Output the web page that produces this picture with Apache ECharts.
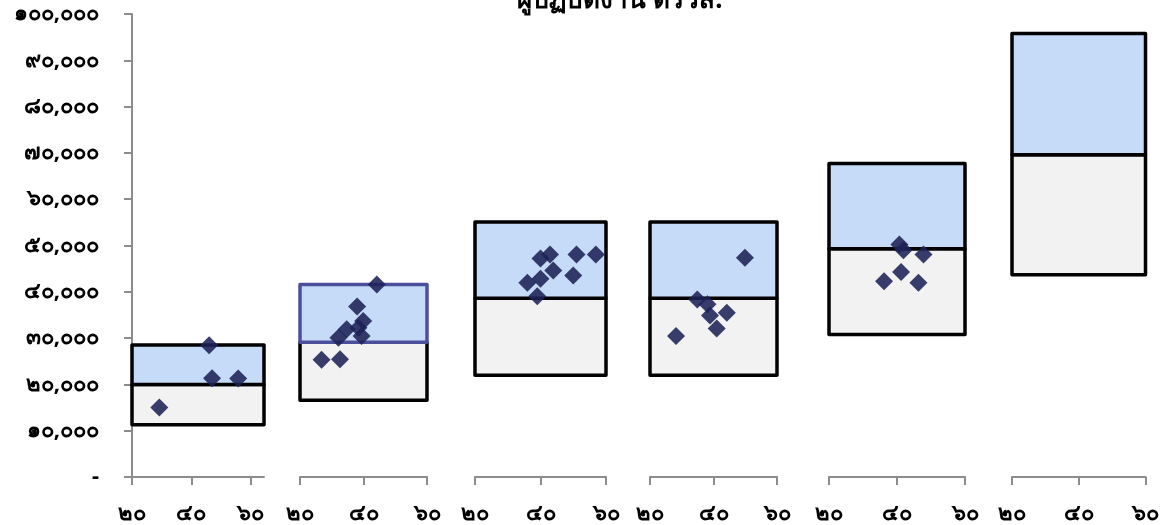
<!DOCTYPE html>
<html>
<head>
<meta charset="utf-8">
<script src="https://cdn.jsdelivr.net/npm/echarts@6/dist/echarts.min.js"></script>
<style>
  html, body { margin: 0; padding: 0; background: #fff; }
  #chart { width: 1162px; height: 525px; }
</style>
</head>
<body>
<div id="chart"></div>
<script>
// Title
const chartTitle = 'ผู้ปฏิบัติงาน ตรวส.';

// Salary band per panel: minimum, midpoint, maximum
const bandMin = [11300, 16600, 22000, 22000, 30800, 43700];
const bandMid = [20000, 29100, 38600, 38600, 49300, 69600];
const bandMax = [28500, 41600, 55100, 55100, 67700, 95800];

// Individual staff: [age, salary] per panel
const staff1 = [[29.2, 15000], [46.0, 28450], [47.0, 21350], [55.8, 21250]];
const staff2 = [[44.2, 41600], [38.0, 36800], [39.9, 33700], [38.4, 32250], [34.7, 31900],
                [39.4, 30450], [32.1, 30100], [32.6, 25450], [26.8, 25300]];
const staff3 = [[42.9, 48050], [40.0, 47200], [51.0, 48050], [56.9, 48050], [43.9, 44600],
                [50.0, 43500], [40.0, 42800], [36.0, 41950], [39.0, 39050]];
const staff4 = [[49.9, 47350], [34.9, 38350], [38.1, 37300], [38.9, 34900], [44.2, 35500],
                [41.0, 32050], [28.2, 30450]];
const staff5 = [[40.7, 50200], [41.9, 49000], [47.8, 48050], [41.2, 44250], [36.2, 42300],
                [46.3, 41950]];
const staff6 = [];
const staffSets = [staff1, staff2, staff3, staff4, staff5, staff6];

// Axis tick values and their labels
const yTickValues = [0, 10000, 20000, 30000, 40000, 50000, 60000, 70000, 80000, 90000, 100000];
const yTickLabels = ['-', '๑๐,๐๐๐', '๒๐,๐๐๐', '๓๐,๐๐๐', '๔๐,๐๐๐', '๕๐,๐๐๐',
                     '๖๐,๐๐๐', '๗๐,๐๐๐', '๘๐,๐๐๐', '๙๐,๐๐๐', '๑๐๐,๐๐๐'];
const xTickValues = [20, 40, 60];
const xTickLabels = ['๒๐', '๔๐', '๖๐'];

// Panel layout: left edge, width (px) and x-axis upper bound
const panels = [
  { left: 132, width: 132, xMax: 64.5 },
  { left: 300, width: 127, xMax: 60 },
  { left: 475, width: 131, xMax: 60 },
  { left: 650, width: 127, xMax: 60 },
  { left: 829, width: 136, xMax: 60 },
  { left: 1012, width: 134, xMax: 60 }
];
const xMin = 20;

const FONT = '"Noto Sans", "DejaVu Sans", Tahoma, sans-serif';
const AXIS_GREY = '#8c8c8c';
const BLUE_FILL = '#c6dbf7';
const GREY_FILL = '#f2f2f2';
const MARK = 'rgba(30, 34, 86, 0.88)';
const LABEL_SIZE = 22;

const grids = [], xAxes = [], yAxes = [], series = [];

panels.forEach((p, i) => {
  grids.push({ left: p.left, width: p.width, top: 14, height: 464 });

  xAxes.push({
    type: 'value', gridIndex: i, min: xMin, max: p.xMax,
    axisLine: { show: true, lineStyle: { color: AXIS_GREY, width: 2 } },
    axisTick: { show: true, length: 8, lineStyle: { color: AXIS_GREY, width: 2 }, customValues: xTickValues },
    axisLabel: {
      customValues: xTickValues, margin: 26,
      fontFamily: FONT, fontSize: LABEL_SIZE, fontWeight: 'bold', color: '#000',
      formatter: v => xTickLabels[xTickValues.indexOf(v)] ?? ''
    },
    splitLine: { show: false }
  });

  yAxes.push({
    type: 'value', gridIndex: i, min: 0, max: 100000, interval: 10000,
    show: i === 0,
    axisLine: { show: i === 0, lineStyle: { color: AXIS_GREY, width: 2 } },
    axisTick: { show: i === 0, length: 8, lineStyle: { color: AXIS_GREY, width: 2 } },
    axisLabel: {
      show: i === 0, margin: 33,
      fontFamily: FONT, fontSize: LABEL_SIZE, fontWeight: 'bold', color: '#000',
      formatter: v => yTickLabels[yTickValues.indexOf(v)] ?? ''
    },
    splitLine: { show: false }
  });

  // Lower band (min → mid) and upper band (mid → max)
  const upperStroke = i === 1 ? '#4b4f9c' : '#000';
  series.push({
    type: 'custom', xAxisIndex: i, yAxisIndex: i, z: 2, silent: true,
    encode: { x: [0, 1], y: [2, 3] },
    data: [
      [xMin, p.xMax, bandMin[i], bandMid[i], 0],
      [xMin, p.xMax, bandMid[i], bandMax[i], 1]
    ],
    renderItem: (params, api) => {
      const a = api.coord([api.value(0), api.value(3)]);
      const b = api.coord([api.value(1), api.value(2)]);
      const upper = api.value(4) === 1;
      return {
        type: 'rect',
        shape: { x: a[0], y: a[1], width: b[0] - a[0], height: b[1] - a[1] },
        style: {
          fill: upper ? BLUE_FILL : GREY_FILL,
          stroke: upper ? upperStroke : '#000',
          lineWidth: 3.5,
          lineJoin: 'round'
        }
      };
    }
  });

  if (staffSets[i].length) {
    series.push({
      type: 'scatter', xAxisIndex: i, yAxisIndex: i, z: 5,
      symbol: 'diamond', symbolSize: 18,
      itemStyle: { color: MARK, opacity: 1 },
      data: staffSets[i]
    });
  }
});

const chart = echarts.init(document.getElementById('chart'), null, { renderer: 'canvas' });
chart.setOption({
  animation: false,
  backgroundColor: '#fff',
  title: {
    text: chartTitle, left: 615, top: -17, textAlign: 'center',
    textStyle: { fontFamily: FONT, fontSize: 26, fontWeight: 'bold', color: '#000' }
  },
  grid: grids, xAxis: xAxes, yAxis: yAxes, series: series
});
</script>
</body>
</html>
